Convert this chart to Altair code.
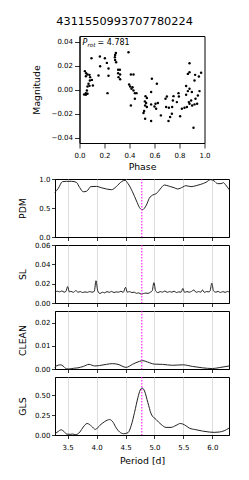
import altair as alt
import pandas as pd

FONT = "DejaVu Sans"
TITLE = "4311550993707780224"
P_ROT = 4.781

# ---- phase-folded light curve ----
phase = [0.096, 0.163, 0.203, 0.291, 0.285, 0.283, 0.285, 0.293, 0.392, 0.165,
         0.219, 0.232, 0.043, 0.053, 0.064, 0.051, 0.080, 0.085, 0.152, 0.232,
         0.309, 0.323, 0.309, 0.325, 0.312, 0.325, 0.411, 0.432, 0.099, 0.083,
         0.072, 0.064, 0.080, 0.107, 0.059, 0.051, 0.037, 0.051, 0.064, 0.224,
         0.397, 0.405, 0.424, 0.416, 0.432, 0.443, 0.456, 0.443, 0.411,
         0.880, 0.867, 0.880, 0.925, 0.955, 0.973, 0.579, 0.920, 0.619, 0.853,
         0.880, 0.867, 0.899, 0.960, 0.573, 0.853, 0.947, 0.792, 0.528, 0.539,
         0.699, 0.688, 0.752, 0.795, 0.928, 0.893, 0.875, 0.523, 0.533, 0.747,
         0.779, 0.573, 0.608, 0.627, 0.920, 0.941, 0.880, 0.525, 0.600, 0.693,
         0.715, 0.741, 0.539, 0.840, 0.859, 0.901, 0.819, 0.613, 0.517, 0.512,
         0.739, 0.651, 0.805, 0.725, 0.525, 0.573, 0.712, 0.912]
magnitude = [0.0264, 0.0278, 0.0264, 0.0308, 0.0292, 0.0272, 0.0250, 0.0230, 0.0314, 0.0197,
             0.0225, 0.0178, 0.0156, 0.0139, 0.0128, 0.0114, 0.0125, 0.0106, 0.0119, 0.0117,
             0.0167, 0.0167, 0.0139, 0.0128, 0.0106, 0.0089, 0.0128, 0.0128, 0.0083, 0.0078,
             0.0050, 0.0028, 0.0033, 0.0036, -0.0006, -0.0028, -0.0039, -0.0042, -0.0033, -0.0028,
             0.0044, 0.0028, 0.0022, 0.0008, -0.0006, -0.0028, -0.0028, -0.0075, -0.0131,
             0.0222, 0.0133, 0.0147, 0.0125, 0.0111, 0.0142, 0.0092, 0.0078, 0.0050, 0.0031,
             0.0008, -0.0011, -0.0019, -0.0011, -0.0019, -0.0042, -0.0047, -0.0028, -0.0053, -0.0069,
             -0.0056, -0.0075, -0.0053, -0.0056, -0.0075, -0.0089, -0.0103, -0.0097, -0.0111, -0.0089,
             -0.0103, -0.0122, -0.0117, -0.0111, -0.0122, -0.0117, -0.0117, -0.0131, -0.0139, -0.0144,
             -0.0150, -0.0144, -0.0144, -0.0150, -0.0144, -0.0131, -0.0158, -0.0158, -0.0178, -0.0194,
             -0.0200, -0.0214, -0.0222, -0.0228, -0.0242, -0.0261, -0.0261, -0.0317]

# ---- periodograms ----
pdm_period = [3.28, 3.34, 3.41, 3.48, 3.57, 3.65, 3.71, 3.77, 3.83, 3.90,
              4.00, 4.08, 4.17, 4.26, 4.34, 4.43, 4.49, 4.54, 4.62, 4.69,
              4.74, 4.79, 4.86, 4.91, 4.97, 5.03, 5.10, 5.17, 5.26, 5.34,
              5.40, 5.49, 5.54, 5.63, 5.72, 5.80, 5.89, 5.97, 6.03, 6.09,
              6.15, 6.19, 6.23, 6.29]
pdm_value = [0.77, 0.84, 0.954, 0.96, 0.96, 0.943, 0.85, 0.78, 0.79, 0.868,
             0.873, 0.85, 0.828, 0.816, 0.868, 0.954, 0.977, 0.925, 0.78, 0.62,
             0.51, 0.47, 0.55, 0.667, 0.724, 0.747, 0.828, 0.897, 0.873, 0.85,
             0.828, 0.862, 0.885, 0.868, 0.885, 0.908, 0.943, 0.989, 0.966, 0.92,
             0.92, 0.937, 0.897, 0.816]

sl_period = [3.28, 3.32, 3.36, 3.40, 3.44, 3.47, 3.50, 3.53, 3.56, 3.60,
             3.64, 3.68, 3.72, 3.76, 3.80, 3.84, 3.88, 3.92, 3.96, 3.99,
             4.02, 4.06, 4.10, 4.14, 4.18, 4.22, 4.26, 4.30, 4.34, 4.38,
             4.42, 4.46, 4.50, 4.53, 4.57, 4.61, 4.65, 4.69, 4.73, 4.77,
             4.81, 4.85, 4.89, 4.93, 4.96, 4.99, 5.02, 5.06, 5.10, 5.14,
             5.18, 5.22, 5.26, 5.30, 5.34, 5.38, 5.42, 5.46, 5.49, 5.52,
             5.56, 5.60, 5.64, 5.68, 5.72, 5.76, 5.80, 5.83, 5.86, 5.90,
             5.94, 5.96, 5.99, 6.02, 6.06, 6.10, 6.14, 6.18, 6.22, 6.26, 6.29]
sl_value = [0.0105, 0.0122, 0.0115, 0.0125, 0.0112, 0.0120, 0.0170, 0.0115, 0.0120, 0.0110,
            0.0128, 0.0112, 0.0118, 0.0108, 0.0115, 0.0110, 0.0118, 0.0112, 0.0120, 0.0230,
            0.0125, 0.0098, 0.0112, 0.0105, 0.0118, 0.0110, 0.0120, 0.0108, 0.0115, 0.0112,
            0.0122, 0.0110, 0.0162, 0.0112, 0.0118, 0.0108, 0.0112, 0.0100, 0.0105, 0.0092,
            0.0098, 0.0102, 0.0100, 0.0112, 0.0125, 0.0210, 0.0125, 0.0108, 0.0118, 0.0112,
            0.0125, 0.0110, 0.0118, 0.0112, 0.0122, 0.0108, 0.0115, 0.0112, 0.0150, 0.0110,
            0.0118, 0.0112, 0.0120, 0.0135, 0.0110, 0.0118, 0.0112, 0.0135, 0.0110, 0.0118,
            0.0115, 0.0125, 0.0205, 0.0125, 0.0112, 0.0120, 0.0108, 0.0118, 0.0110, 0.0120, 0.0112]

clean_period = [3.28, 3.31, 3.38, 3.42, 3.48, 3.52, 3.60, 3.68, 3.77, 3.87,
                3.97, 4.05, 4.17, 4.27, 4.37, 4.51, 4.62, 4.74, 4.80, 4.88,
                5.00, 5.14, 5.31, 5.49, 5.66, 5.83, 6.00, 6.12, 6.29]
clean_value = [0.0006, 0.0014, 0.0018, 0.0013, 0.0001, 0.0, 0.0003, 0.0005, 0.0011, 0.0020,
               0.0013, 0.0015, 0.0020, 0.0023, 0.0020, 0.0007, 0.0020, 0.0033, 0.0036, 0.0030,
               0.0021, 0.0020, 0.0016, 0.0018, 0.0011, 0.0005, 0.0002, 0.0006, 0.0013]

gls_period = [3.282, 3.339, 3.385, 3.436, 3.482, 3.539, 3.585, 3.642, 3.711, 3.769,
              3.837, 3.912, 3.981, 4.055, 4.141, 4.227, 4.284, 4.341, 4.399, 4.467,
              4.542, 4.599, 4.656, 4.714, 4.754, 4.788, 4.828, 4.885, 4.943, 5.029,
              5.115, 5.200, 5.286, 5.372, 5.447, 5.516, 5.602, 5.716, 5.830, 5.945,
              6.031, 6.117, 6.203, 6.287]
gls_value = [0.016, 0.045, 0.065, 0.045, 0.012, 0.008, 0.012, 0.004, 0.037, 0.099,
             0.144, 0.111, 0.070, 0.120, 0.168, 0.193, 0.160, 0.086, 0.037, 0.016,
             0.029, 0.120, 0.283, 0.468, 0.563, 0.587, 0.550, 0.407, 0.263, 0.193,
             0.132, 0.095, 0.095, 0.120, 0.144, 0.128, 0.086, 0.066, 0.049, 0.037,
             0.033, 0.037, 0.053, 0.086]

period_ticks = [3.5, 4.0, 4.5, 5.0, 5.5, 6.0]
period_domain = [3.282, 6.287]
phase_ticks = [0, 0.2, 0.4, 0.6, 0.8, 1.0]
mag_ticks = [-0.04, -0.02, 0.0, 0.02, 0.04]

W_LOW, H_LOW = 174, 58
W_TOP, H_TOP = 125, 107


def minus_expr(fmt):
    return "replace(format(datum.value, '" + fmt + "'), '-', '\u2212')"


# ---- top scatter ----
lc = pd.DataFrame({"phase": phase, "mag": magnitude})
points = alt.Chart(lc).mark_circle(size=6, color="black", opacity=1).encode(
    x=alt.X("phase:Q", scale=alt.Scale(domain=[0, 1], nice=False),
            axis=alt.Axis(values=phase_ticks, tickCount=len(phase_ticks), format=".1f",
                          title="Phase", tickSize=5, labelPadding=3, titlePadding=4, grid=False,
                          labelOverlap=False, labelFlush=False)),
    y=alt.Y("mag:Q", scale=alt.Scale(domain=[-0.0445, 0.045], nice=False, zero=False),
            axis=alt.Axis(values=mag_ticks, tickCount=len(mag_ticks), labelExpr=minus_expr(".2f"),
                          title="Magnitude", tickSize=5, labelPadding=2, grid=False,
                          labelOverlap=False, labelFlush=False,
                          titleX=-38, titleY=H_TOP / 2, titleBaseline="bottom")),
)
lab_p = alt.Chart(pd.DataFrame({"t": ["P"]})).mark_text(
    font=FONT, fontSize=8, fontStyle="italic", align="left", baseline="alphabetic", color="black"
).encode(x=alt.datum(0.024), y=alt.datum(0.0375), text="t:N")
lab_rot = alt.Chart(pd.DataFrame({"t": ["rot"]})).mark_text(
    font=FONT, fontSize=5.6, fontStyle="italic", align="left", baseline="alphabetic", color="black",
    dx=5, dy=2
).encode(x=alt.datum(0.024), y=alt.datum(0.0375), text="t:N")
lab_val = alt.Chart(pd.DataFrame({"t": ["= " + "4.781"]})).mark_text(
    font=FONT, fontSize=8, align="left", baseline="alphabetic", color="black", dx=15
).encode(x=alt.datum(0.024), y=alt.datum(0.0375), text="t:N")
scatter = alt.layer(points, lab_p, lab_rot, lab_val).properties(width=W_TOP, height=H_TOP)

spacer = alt.Chart(pd.DataFrame({"a": [0]})).mark_point(opacity=0).encode(
    x=alt.value(0), y=alt.value(0)
).properties(width=W_LOW, height=20, view=alt.ViewBackground(stroke="transparent"))


def panel(name, periods, values, ydom, yticks, yfmt, bottom):
    df = pd.DataFrame({"period": periods, "value": values})
    if bottom:
        xaxis = alt.Axis(values=period_ticks, tickCount=len(period_ticks), format=".1f",
                         title="Period [d]", grid=True,
                         gridColor="#d4d4d4", gridWidth=0.8, tickSize=3.5,
                         labelPadding=5, titlePadding=6, labelOverlap=False, labelFlush=False)
    else:
        xaxis = alt.Axis(values=period_ticks, tickCount=len(period_ticks), labels=False,
                         title=None, grid=True,
                         gridColor="#d4d4d4", gridWidth=0.8, tickSize=3.5)
    line = alt.Chart(df).mark_line(color="#222222", strokeWidth=1, interpolate="monotone").encode(
        x=alt.X("period:Q", scale=alt.Scale(domain=period_domain, nice=False, zero=False), axis=xaxis),
        y=alt.Y("value:Q", scale=alt.Scale(domain=ydom, nice=False, zero=False),
                axis=alt.Axis(values=yticks, tickCount=len(yticks), format=yfmt, title=name,
                              grid=False, tickSize=3.5,
                              labelPadding=1.5, titleX=-28, titleY=H_LOW / 2,
                              labelOverlap=False, labelFlush=False,
                              titleBaseline="bottom")),
    )
    rule = alt.Chart(pd.DataFrame({"p": [P_ROT]})).mark_rule(
        color="#ff00ff", strokeDash=[1.5, 1.5], strokeWidth=1
    ).encode(x="p:Q")
    return alt.layer(line, rule).properties(width=W_LOW, height=H_LOW)


pdm = panel("PDM", pdm_period, pdm_value, [0, 1], [0, 0.5, 1.0], ".1f", False)
sl = panel("SL", sl_period, sl_value, [0, 0.06], [0, 0.02, 0.04, 0.06], ".2f", False)
clean = panel("CLEAN", clean_period, clean_value, [0, 0.025], [0, 0.01, 0.02], ".2f", False)
gls = panel("GLS", gls_period, gls_value, [0, 0.725], [0, 0.25, 0.5], ".2f", True)

chart = alt.vconcat(
    scatter, spacer, pdm, sl, clean, gls, spacing=8, bounds="flush", center=True
).properties(
    title=alt.TitleParams(TITLE, font=FONT, fontSize=11.3, fontWeight="normal", color="black",
                          anchor="middle", offset=8),
    padding={"left": 9, "top": 8, "right": 5, "bottom": 5},
).configure_axis(
    labelFont=FONT, titleFont=FONT, labelFontSize=7, titleFontSize=9.3,
    labelColor="black", titleColor="black", domainColor="black", tickColor="black",
    titleFontWeight="normal", domainWidth=1, tickWidth=0.8
).configure_view(stroke="black", strokeWidth=1)

chart.save("out.html", embed_options={"renderer": "svg", "actions": False})
